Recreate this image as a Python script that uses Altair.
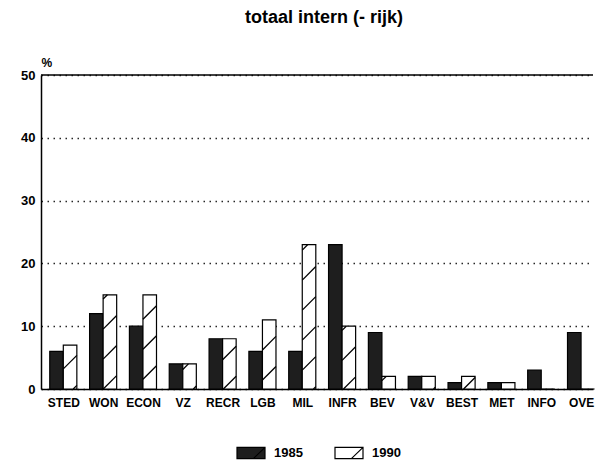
import json
import math
import altair as alt
import pandas as pd

# ---- data ----
categories = ["STED", "WON", "ECON", "VZ", "RECR", "LGB", "MIL",
              "INFR", "BEV", "V&V", "BEST", "MET", "INFO", "OVE"]
v1985 = [6, 12, 10, 4, 8, 6, 6, 23, 9, 2, 1, 1, 3, 9]
v1990 = [7, 15, 15, 4, 8, 11, 23, 10, 2, 2, 2, 1, 0, 0]
years = ["1985", "1990"]
y_ticks = [0, 10, 20, 30, 40, 50]

# ---- styling constants ----
FONT = "Liberation Sans"
BW = 0.34           # bar width in category-index units
K = 6.34            # slope of a 45deg hatch line (% per index unit)
P = 4.78            # vertical hatch period (%)
ANCHOR_X, ANCHOR_Y = 6, 3.0

rows = []
for i, c in enumerate(categories):
    for j, (yr, vals) in enumerate(zip(years, [v1985, v1990])):
        rows.append({"cat": c, "idx": i, "year": yr, "value": vals[i]})
df = pd.DataFrame(rows)

# hatch segments for the 1990 bars, derived from the values
hatch = []
for i, v in enumerate(v1990):
    if v <= 0:
        continue
    xl, xr = i, i + BW
    b0 = K * (xl - ANCHOR_X) + ANCHOR_Y
    k = math.floor((-K * BW - b0) / P)
    while True:
        b = b0 + k * P
        if b >= v:
            break
        top = b + K * BW
        if top > 0:
            if b < 0:
                xs, ys = xl + (0 - b) / K, 0.0
            else:
                xs, ys = xl, b
            if top > v:
                xe, ye = xl + (v - b) / K, float(v)
            else:
                xe, ye = xr, top
            hatch.append({"hx": xs, "hx2": xe, "hy": ys, "hy2": ye})
        k += 1
hdf = pd.DataFrame(hatch)

label_expr = json.dumps(categories) + "[datum.value]"

xscale = alt.Scale(domain=[-0.56, 13.3], nice=False, zero=False)
yscale = alt.Scale(domain=[0, 50], nice=False)

x_axis = alt.Axis(
    values=list(range(len(categories))), labelExpr=label_expr,
    title=None, ticks=False, grid=False, labelFlush=False,
    labelOverlap=False, labelBound=False, labelPadding=8,
    labelFontSize=12, labelFontWeight="bold", labelColor="black",
    labelFont=FONT, domainColor="black", domainWidth=1.5)
y_axis = alt.Axis(
    values=y_ticks, title="%", titleAngle=0, titleX=0, titleY=-9,
    titleAlign="left", titleBaseline="alphabetic", titleFontSize=12,
    titleFontWeight="bold", titleFont=FONT, titleColor="black",
    ticks=False, labelPadding=6, grid=True, gridDash=[1.5, 4.5],
    gridColor="black", gridWidth=1.5, gridOpacity=0.85,
    domainColor="black", domainWidth=1.5, labelFontSize=13,
    labelFontWeight="bold", labelColor="black", labelFont=FONT)

bars = alt.Chart(df).transform_calculate(
    x0=f"datum.idx - {BW} + (datum.year == '1990' ? {BW} : 0)",
    x1=f"datum.idx + (datum.year == '1990' ? {BW} : 0)",
).mark_bar(stroke="black", strokeWidth=1.2).encode(
    x=alt.X("x0:Q", scale=xscale, axis=x_axis),
    x2="x1:Q",
    y=alt.Y("value:Q", scale=yscale, axis=y_axis),
    y2=alt.datum(0),
    fill=alt.Fill("year:N", scale=alt.Scale(domain=years, range=["#1e1e1e", "white"]),
                  legend=alt.Legend(
                      title=None, orient="none", legendX=195, legendY=363,
                      direction="horizontal",
                      symbolType="M-1,-0.4H1V0.4H-1ZM0.17,0.4L1,-0.4",
                      symbolSize=784, symbolStrokeColor="black",
                      symbolStrokeWidth=1.2, labelFontSize=13,
                      labelFontWeight="bold", labelOffset=8,
                      columnPadding=29, labelFont=FONT, labelColor="black")),
)

hatch_layer = alt.Chart(hdf).mark_rule(color="black", strokeWidth=1.3).encode(
    x=alt.X("hx:Q", scale=xscale, axis=x_axis),
    x2="hx2:Q",
    y=alt.Y("hy:Q", scale=yscale, axis=y_axis),
    y2="hy2:Q",
)

top_rule = alt.Chart(pd.DataFrame({"top": [50]})).mark_rule(
    color="black", strokeWidth=1.5).encode(
    y=alt.Y("top:Q", scale=yscale, axis=y_axis))

chart = alt.layer(bars, hatch_layer, top_rule).properties(
    width=552, height=314,
    title=alt.TitleParams("totaal intern (- rijk)", fontSize=18,
                          fontWeight="bold", font=FONT, anchor="middle",
                          dx=7, offset=29, color="black"),
    autosize=alt.AutoSizeParams(type="none"),
    padding={"left": 33, "top": 67, "right": 2, "bottom": 72},
).configure(background="white", view=alt.ViewConfig(stroke=None))

chart.save("out.html", embed_options={"renderer": "svg", "actions": False})
